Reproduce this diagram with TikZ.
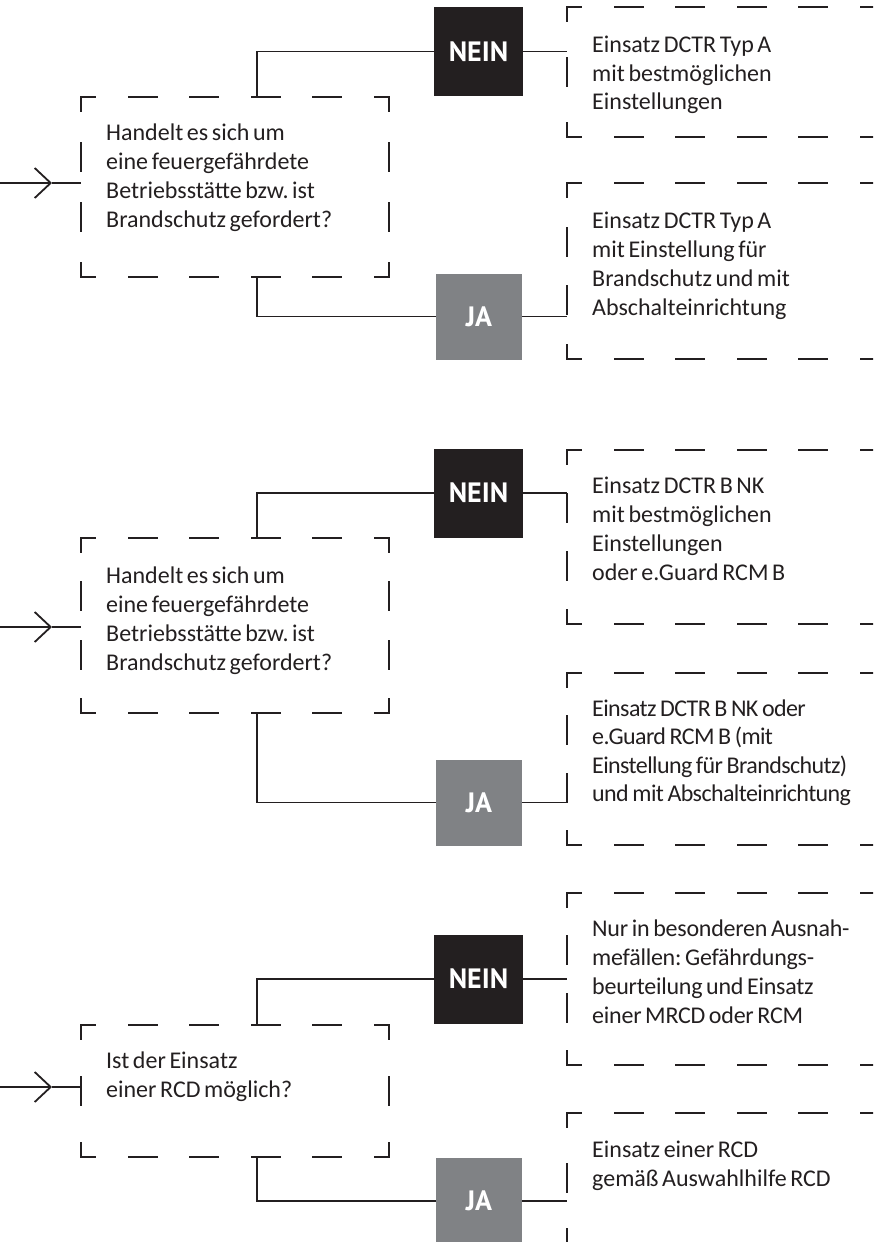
\documentclass[tikz,border=0pt]{standalone}
\usepackage{fontspec}
\setmainfont{Carlito}
\newfontfamily\tagfont{PT Sans}
\usepackage{tikz}
\usetikzlibrary{arrows.meta, positioning}
\frenchspacing

\definecolor{ink}{HTML}{231F20}
\definecolor{jagrey}{HTML}{808285}

\newdimen\fraXa \newdimen\fraYa \newdimen\fraXb \newdimen\fraYb
\newcommand{\dashframe}[1]{%
  \pgfextractx{\fraXa}{\pgfpointanchor{#1}{south west}}%
  \pgfextracty{\fraYa}{\pgfpointanchor{#1}{south west}}%
  \pgfextractx{\fraXb}{\pgfpointanchor{#1}{north east}}%
  \pgfextracty{\fraYb}{\pgfpointanchor{#1}{north east}}%
  \pgfmathsetmacro\frXa{\fraXa}\pgfmathsetmacro\frYa{\fraYa}%
  \pgfmathsetmacro\frXb{\fraXb}\pgfmathsetmacro\frYb{\fraYb}%
  \pgfmathsetmacro\fraGw{(\frXb-\frXa)/max(1,round((\frXb-\frXa)/61))-27.2}%
  \pgfmathsetmacro\fraGh{(\frYb-\frYa)/max(1,round((\frYb-\frYa)/61))-27.2}%
  \draw[dashline, dash pattern=on 27.2pt off \fraGw pt, dash phase=13.6pt]
    (\frXa pt,\frYb pt) -- (\frXb pt,\frYb pt) (\frXa pt,\frYa pt) -- (\frXb pt,\frYa pt);
  \draw[dashline, dash pattern=on 27.2pt off \fraGh pt, dash phase=13.6pt]
    (\frXa pt,\frYa pt) -- (\frXa pt,\frYb pt) (\frXb pt,\frYa pt) -- (\frXb pt,\frYb pt);
}

\begin{document}
\begin{tikzpicture}[x=1pt, y=-1pt,
  dashline/.style={draw=ink, line width=2.8pt, line cap=rect},
  qbox/.style={rectangle, inner sep=0pt, outer sep=0pt, minimum width=308pt},
  txt/.style={anchor=base west, inner sep=0pt, text width=300pt, align=left, text=ink,
    font=\fontsize{24}{29}\selectfont, execute at begin node={\spaceskip=3.6pt\relax}},
  tight/.style={font=\fontsize{24}{28.5}\selectfont\addfontfeature{LetterSpace=-2.5}},
  nein/.style={fill=ink, text=white, minimum size=89pt, inner sep=0pt,
    font=\tagfont\bfseries\fontsize{28}{28}\selectfont},
  ja/.style={nein, fill=jagrey, minimum size=86pt},
  conn/.style={draw=ink, line width=1.8pt},
  into/.style={conn, -{Straight Barb[length=16pt, width=30pt]}}]
  \clip (0,0) rectangle (873,1242);

  \node[qbox, minimum height=180pt] (q1) at (235,187) {};
  \node[qbox, minimum height=130pt] (a1) at (721,72) {};
  \node[qbox, minimum height=176pt] (a2) at (721,271) {};
  \node[nein] (n1) at (478.5,51.5) {NEIN};
  \node[ja] (j1) at (479,316.5) {JA};
  \node[txt] (q1t) at ([shift={(25pt,-43pt)}]q1.north west)
    {Handelt es sich um\\eine feuergefährdete\\Betriebsstätte bzw. ist\\Brandschutz gefordert?};
  \node[txt] (a1t) at ([shift={(25pt,-45pt)}]a1.north west)
    {Einsatz DCTR Typ A\\mit bestmöglichen\\Einstellungen};
  \node[txt] (a2t) at ([shift={(25pt,-45pt)}]a2.north west)
    {Einsatz DCTR Typ A\\mit Einstellung für\\Brandschutz und mit\\Abschalteinrichtung};
  \coordinate (in1) at (0,183);
  \coordinate (tip1) at (52,183);
  \draw[into] (in1) -- (tip1);
  \draw[conn] (tip1) -- (tip1 -| q1.west);
  \draw[conn] ([xshift=22pt]q1.north) |- (n1);
  \draw[conn] ([xshift=22pt]q1.south) |- (j1);
  \draw[conn] (n1.east) -- (n1.east -| a1.west);
  \draw[conn] (j1.east) -- (j1.east -| a2.west);
  \dashframe{q1} \dashframe{a1} \dashframe{a2}

  \node[qbox, minimum height=175pt] (q2) at (235,625.5) {};
  \node[qbox, minimum height=174pt] (a3) at (721,537) {};
  \node[qbox, minimum height=172pt] (a4) at (721,759) {};
  \node[nein] (n2) at (478.5,493) {NEIN};
  \node[ja] (j2) at (479,802.5) {JA};
  \node[txt] (q2t) at ([shift={(25pt,-45pt)}]q2.north west)
    {Handelt es sich um\\eine feuergefährdete\\Betriebsstätte bzw. ist\\Brandschutz gefordert?};
  \node[txt] (a3t) at ([shift={(25pt,-43pt)}]a3.north west)
    {Einsatz DCTR B NK\\mit bestmöglichen\\Einstellungen\\oder e.Guard RCM B};
  \node[txt, tight] (a4t) at ([shift={(25pt,-43pt)}]a4.north west)
    {Einsatz DCTR B NK oder\\e.Guard RCM B (mit\\Einstellung für Brandschutz)\\und mit Abschalteinrichtung};
  \coordinate (in2) at (0,627);
  \coordinate (tip2) at (52,627);
  \draw[into] (in2) -- (tip2);
  \draw[conn] (tip2) -- (tip2 -| q2.west);
  \draw[conn] ([xshift=22pt]q2.north) |- (n2);
  \draw[conn] ([xshift=22pt]q2.south) |- (j2);
  \draw[conn] (n2.east) -- (n2.east -| a3.west);
  \draw[conn] (j2.east) -- (j2.east -| a4.west);
  \dashframe{q2} \dashframe{a3} \dashframe{a4}

  \node[qbox, minimum height=132pt] (q3) at (235,1091) {};
  \node[qbox, minimum height=172pt] (a5) at (721,979) {};
  \node[qbox, minimum height=130pt] (a6) at (721,1178) {};
  \node[nein] (n3) at (478.5,979) {NEIN};
  \node[ja] (j3) at (479,1201) {JA};
  \node[txt] (q3t) at ([shift={(25pt,-43pt)}]q3.north west)
    {Ist der Einsatz\\einer RCD möglich?};
  \node[txt, font=\fontsize{24}{29}\selectfont\addfontfeature{LetterSpace=-1}] (a5t)
    at ([shift={(25pt,-43pt)}]a5.north west)
    {Nur in besonderen Ausnah-\\mefällen: Gefährdungs-\\beurteilung und Einsatz\\einer MRCD oder RCM};
  \node[txt] (a6t) at ([shift={(25pt,-44pt)}]a6.north west)
    {Einsatz einer RCD\\gemäß Auswahlhilfe RCD};
  \coordinate (in3) at (0,1087);
  \coordinate (tip3) at (52,1087);
  \draw[into] (in3) -- (tip3);
  \draw[conn] (tip3) -- (tip3 -| q3.west);
  \draw[conn] ([xshift=22pt]q3.north) |- (n3);
  \draw[conn] ([xshift=22pt]q3.south) |- (j3);
  \draw[conn] (n3.east) -- (n3.east -| a5.west);
  \draw[conn] (j3.east) -- (j3.east -| a6.west);
  \dashframe{q3} \dashframe{a5} \dashframe{a6}
\end{tikzpicture}
\end{document}
